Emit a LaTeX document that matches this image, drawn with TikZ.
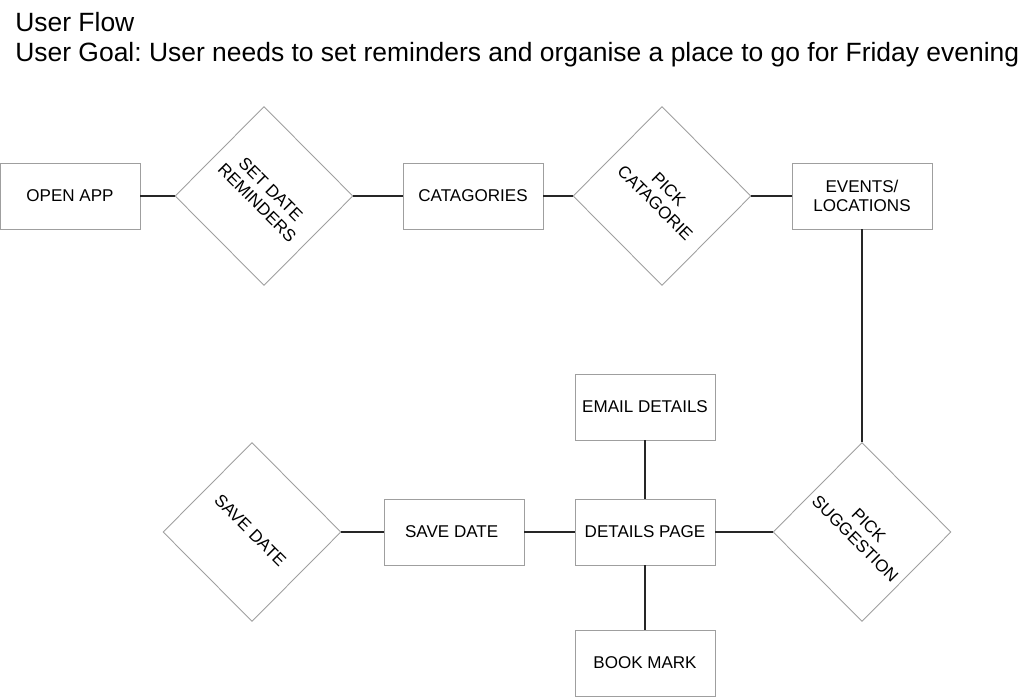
\documentclass[tikz,border=0pt]{standalone}
\usepackage{fontspec}
\setmainfont{Liberation Sans}
\usetikzlibrary{shapes.geometric}
\tikzset{
	screen/.style={draw=gray!75, line width=0.5pt, minimum width=2.8cm, minimum height=1.32cm, inner sep=0pt, align=center, font=\fontsize{9.7}{10.8}\selectfont},
	choice/.style={draw=gray!75, line width=0.5pt, diamond, minimum width=3.56cm, minimum height=3.58cm, inner sep=0pt},
	choicetext/.style={rotate=-45, align=center, inner sep=0pt, font=\fontsize{9.7}{11}\selectfont},
	headline/.style={anchor=base west, inner sep=0pt, font=\fontsize{15.05}{17}\selectfont},
	link/.style={line width=0.6pt, black!85}
}
\frenchspacing
\begin{document}
\begin{tikzpicture}[x=0.02cm,y=-0.02cm]
\useasboundingbox (0,0) rectangle (1026,697);

%Ueberschrift
\node[headline] (title) at (15,31) {User Flow};
\node[headline] (goal) at (15,61) {User Goal: User needs to set reminders and organise a place to go for Friday evening};

%Seiten
\foreach \name/\x/\y/\txt in
{
open/70/196/OPEN APP,
cat/473/196/CATAGORIES,
events/862/196/{EVENTS/\\LOCATIONS},
email/645/407/EMAIL DETAILS,
details/645/532/DETAILS PAGE,
book/645/663/BOOK MARK,
save/454/532/SAVE DATE
}
{
	\node[screen] (\name) at (\x,\y) {\txt};
}

%Entscheidungen
\foreach \name/\x/\y/\txt in
{
setdate/264/196/{SET DATE\\REMINDERS},
pickcat/662/196/{PICK\\CATAGORIE},
picksug/862/532/{PICK\\SUGGESTION},
savechoice/252/532/SAVE DATE
}
{
	\node[choice] (\name) at (\x,\y) {};
	\node[choicetext] (\name txt) at (\name) {\txt};
}

%Verbindungen
\draw[link] (open.east) -- (setdate.west);
\draw[link] (setdate.east) -- (cat.west);
\draw[link] (cat.east) -- (pickcat.west);
\draw[link] (pickcat.east) -- (events.west);
\draw[link] (events.south) -- (picksug.north);
\draw[link] (picksug.west) -- (details.east);
\draw[link] (details.north) -- (email.south);
\draw[link] (details.south) -- (book.north);
\draw[link] (details.west) -- (save.east);
\draw[link] (save.west) -- (savechoice.east);

\end{tikzpicture}
\end{document}
